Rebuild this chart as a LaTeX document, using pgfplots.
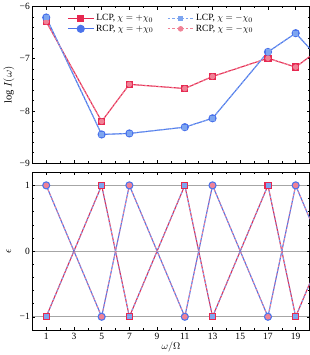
\documentclass[border=0pt]{standalone}
\usepackage{fontspec}
\setmainfont{Liberation Serif}
\usepackage{pgfplots}
\pgfplotsset{compat=1.18}
\definecolor{lred}{RGB}{230,40,80}
\definecolor{rblue}{RGB}{75,115,235}
\definecolor{lblue}{RGB}{125,165,240}
\definecolor{lpink}{RGB}{240,130,150}
\begin{document}
\begin{tikzpicture}[font=\fontsize{9.5}{11}\selectfont]
\pgfplotsset{
  every axis/.append style={
    scale only axis, width=276bp, height=156bp,
    xmin=0, xmax=20,
    xtick={1,3,...,19}, minor x tick num=1,
    tick align=inside,
    major tick length=3bp, minor tick length=1.7bp,
    every tick/.style={black, line width=0.5pt},
    axis line style={line width=0.7pt},
    /pgf/number format/assume math mode=true,
    ticklabel style={font=\fontsize{9.5}{11}\selectfont},
    yticklabel style={xshift=1bp},
    every axis y label/.style={at={(rel axis cs:-0.085,0.5)}, rotate=90, anchor=center, font=\fontsize{10.5}{12}\selectfont},
  },
  solidL/.style={lred, line width=1.1pt, mark=square*, mark size=3.1bp, mark options={solid, fill=lred, draw=lred}},
  solidR/.style={rblue, line width=1.1pt, mark=*, mark size=3.5bp, mark options={solid, fill=rblue, draw=rblue}},
  dashL/.style={lblue, line width=0.9pt, dash pattern=on 2.5pt off 2pt, mark=square*, mark size=2.0bp, mark options={solid, fill=lblue, draw=lblue}},
  dashR/.style={lpink, line width=0.9pt, dash pattern=on 2.5pt off 2pt, mark=*, mark size=2.3bp, mark options={solid, fill=lpink, draw=lpink}},
}
\begin{axis}[
  ymin=-9, ymax=-6,
  ytick={-9,-8,-7,-6}, yticklabels={−9,−8,−7,−6},
  minor y tick num=4,
  xticklabels={},
  ylabel={$\log I(\omega)$},
  legend columns=2,
  legend style={draw=none, fill=none, at={(0.465,0.975)}, anchor=north,
    /tikz/every even column/.append style={column sep=12bp},
    font=\fontsize{9.5}{11}\selectfont, row sep=-1.5pt},
  legend image code/.code={\draw[mark repeat=2,mark phase=2] plot coordinates {(0cm,0cm)(0.45cm,0cm)(0.9cm,0cm)};},
]
\addlegendimage{solidL}
\addlegendentry{LCP, $\chi=+\chi_0$}
\addlegendimage{dashL}
\addlegendentry{LCP, $\chi=-\chi_0$}
\addlegendimage{solidR}
\addlegendentry{RCP, $\chi=+\chi_0$}
\addlegendimage{dashR}
\addlegendentry{RCP, $\chi=-\chi_0$}
% +chi0
\addplot[solidL, forget plot] coordinates {(1,-6.29) (5,-8.20) (7,-7.49) (11,-7.57) (13,-7.34) (17,-6.99) (19,-7.16) (23,-6.36)};
\addplot[solidR, forget plot] coordinates {(1,-6.21) (5,-8.45) (7,-8.43) (11,-8.31) (13,-8.14) (17,-6.87) (19,-6.51) (23,-7.67)};
% -chi0
\addplot[dashR, forget plot] coordinates {(1,-6.29) (5,-8.20) (7,-7.49) (11,-7.57) (13,-7.34) (17,-6.99) (19,-7.16) (23,-6.36)};
\addplot[dashL, forget plot] coordinates {(1,-6.21) (5,-8.45) (7,-8.43) (11,-8.31) (13,-8.14) (17,-6.87) (19,-6.51) (23,-7.67)};
\node[anchor=west] at (rel axis cs:-0.118,0.97) {(a)};
\end{axis}
\begin{axis}[
  at={(0,-166bp)}, height=157bp,
  ymin=-1.2, ymax=1.2,
  ytick={-1,0,1}, yticklabels={−1,0,1},
  minor y tick num=4,
  ymajorgrids, major grid style={gray!70, line width=0.6pt},
  xticklabels={1,3,5,7,9,11,13,15,17,19},
  xlabel={$\omega/\Omega$},
  xlabel style={yshift=5bp, font=\fontsize{10}{12}\selectfont},
  ylabel={$\epsilon$},
]
\addplot[solidL] coordinates {(1,-1) (5,1) (7,-1) (11,1) (13,-1) (17,1) (19,-1) (23,1)};
\addplot[solidR] coordinates {(1,1) (5,-1) (7,1) (11,-1) (13,1) (17,-1) (19,1) (23,-1)};
\addplot[dashL] coordinates {(1,-1) (5,1) (7,-1) (11,1) (13,-1) (17,1) (19,-1) (23,1)};
\addplot[dashR] coordinates {(1,1) (5,-1) (7,1) (11,-1) (13,1) (17,-1) (19,1) (23,-1)};
\node[anchor=west] at (rel axis cs:-0.118,0.96) {(b)};
\end{axis}
\end{tikzpicture}
\end{document}
